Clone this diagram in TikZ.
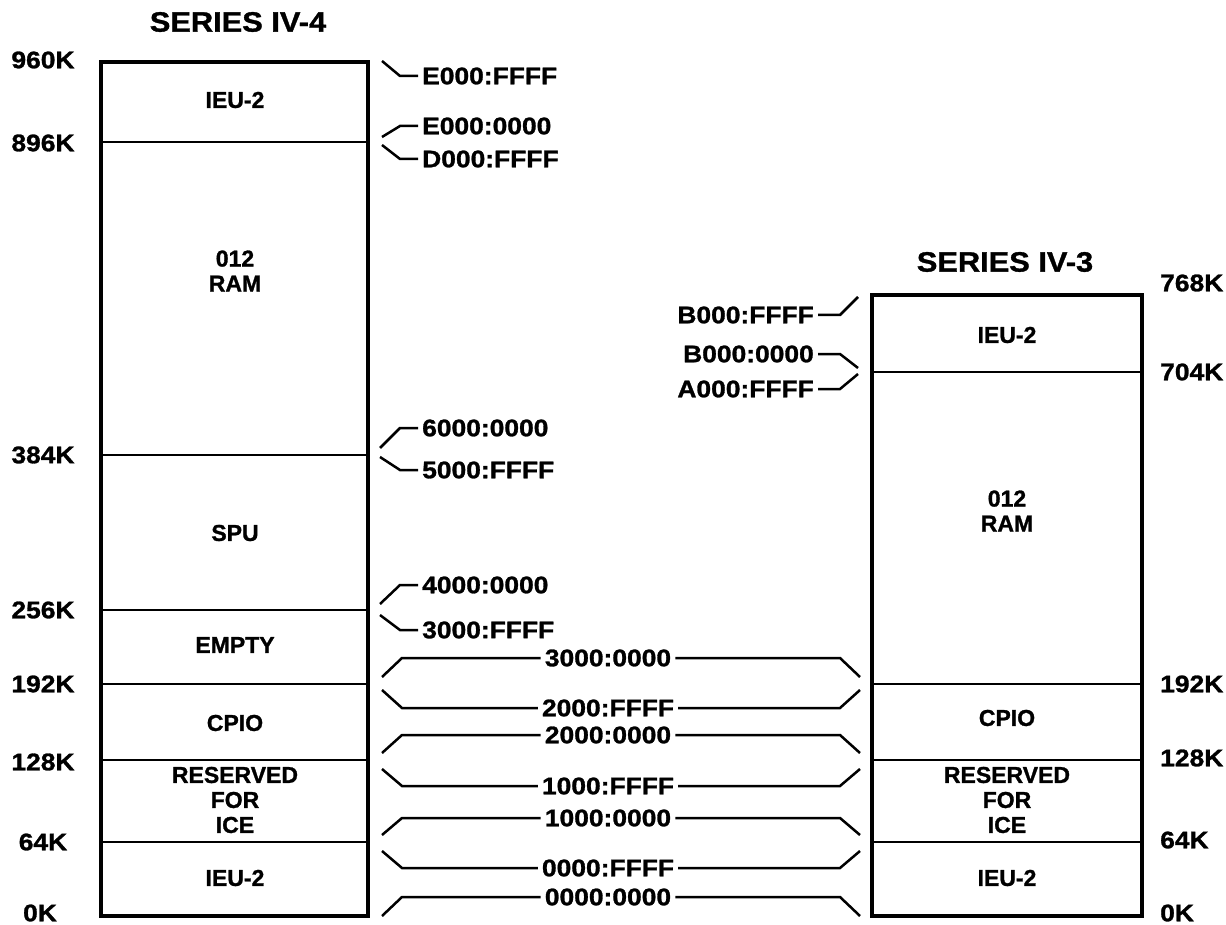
\documentclass[tikz,border=0pt]{standalone}
\usepackage{fontspec}
\setmainfont{Liberation Sans}[FakeStretch=1.1,BoldFeatures={FakeBold=1.2}]
\newfontfamily\secfont{Liberation Sans}[BoldFeatures={FakeBold=1.2}]
\usetikzlibrary{positioning}

\begin{document}
\begin{tikzpicture}[x=1pt,y=-1pt,every node/.style={inner sep=4pt,font=\bfseries\fontsize{24}{26}\selectfont},
mem/.style={line width=4pt},cut/.style={line width=2.5pt},con/.style={line width=2.5pt},
sec/.style={align=center,font=\secfont\bfseries\fontsize{23}{25}\selectfont},
ttl/.style={font=\bfseries\fontsize{28}{30}\selectfont}
]
\useasboundingbox (0,0) rectangle (1226,925);

% series IV-4
\node[ttl](t4) at (238,22) {SERIES IV-4};
\draw[mem] (101,62) rectangle (368,916);
\draw[cut] (101,142) -- (368,142) (101,455) -- (368,455) (101,610) -- (368,610)
  (101,684) -- (368,684) (101,760) -- (368,760) (101,842) -- (368,842);
\node[sec] at (235,100) {IEU-2};
\node[sec] at (235,271) {012\\RAM};
\node[sec] at (235,533) {SPU};
\node[sec] at (235,645) {EMPTY};
\node[sec] at (235,723) {CPIO};
\node[sec] at (235,800) {RESERVED\\FOR\\ICE};
\node[sec] at (235,878) {IEU-2};
\node(k960) at (43,60) {960K};
\node(k896) at (43,143) {896K};
\node(k384) at (43,455) {384K};
\node(k256) at (43,610) {256K};
\node(k192) at (43,684) {192K};
\node(k128) at (43,762) {128K};
\node(k64) at (43,842) {64K};
\node(k0) at (40,913) {0K};

% series IV-3
\node[ttl](t3) at (1005,262) {SERIES IV-3};
\draw[mem] (872,295) rectangle (1142,916);
\draw[cut] (872,372) -- (1142,372) (872,684) -- (1142,684) (872,760) -- (1142,760)
  (872,842) -- (1142,842);
\node[sec] at (1007,335) {IEU-2};
\node[sec] at (1007,511) {012\\RAM};
\node[sec] at (1007,718) {CPIO};
\node[sec] at (1007,800) {RESERVED\\FOR\\ICE};
\node[sec] at (1007,878) {IEU-2};
\node[anchor=west](r768) at (1156,283) {768K};
\node[anchor=west](r704) at (1156,372) {704K};
\node[anchor=west](r192) at (1156,684) {192K};
\node[anchor=west](r128) at (1156,758) {128K};
\node[anchor=west](r64) at (1156,840) {64K};
\node[anchor=west](r0) at (1156,913) {0K};

% addresses beside IV-4
\node[anchor=west](e0f) at (418,76) {E000:FFFF};
\node[anchor=west](e00) at (418,126) {E000:0000};
\node[anchor=west](d0f) at (418,159) {D000:FFFF};
\node[anchor=west](a60) at (418,428) {6000:0000};
\node[anchor=west](a5f) at (418,470) {5000:FFFF};
\node[anchor=west](a40) at (418,585) {4000:0000};
\node[anchor=west](a3f) at (418,630) {3000:FFFF};
\draw[con] (e0f.west) -- ++(-18,0) -- ++(-18,-15);
\draw[con] (e00.west) -- ++(-18,0) -- ++(-18,11);
\draw[con] (d0f.west) -- ++(-18,0) -- ++(-18,-14);
\draw[con] (a60.west) -- ++(-18,0) -- ++(-20,20);
\draw[con] (a5f.west) -- ++(-18,0) -- ++(-20,-13);
\draw[con] (a40.west) -- ++(-18,0) -- ++(-20,19);
\draw[con] (a3f.west) -- ++(-18,0) -- ++(-20,-15);

% addresses beside IV-3
\node[anchor=east](b0f) at (818,315) {B000:FFFF};
\node[anchor=east](b00) at (818,354) {B000:0000};
\node[anchor=east](a0f) at (818,389) {A000:FFFF};
\draw[con] (b0f.east) -- ++(22,0) -- ++(18,-18);
\draw[con] (b00.east) -- ++(22,0) -- ++(18,14);
\draw[con] (a0f.east) -- ++(22,0) -- ++(18,-15);

% shared addresses
\node(m30) at (608,658) {3000:0000};
\node(m2f) at (608,708) {2000:FFFF};
\node(m20) at (608,735) {2000:0000};
\node(m1f) at (608,786) {1000:FFFF};
\node(m10) at (608,818) {1000:0000};
\node(m0f) at (608,868) {0000:FFFF};
\node(m00) at (608,897) {0000:0000};
\draw[con] (m30.west) -- (m30.west -| 402,0) -- ++(-20,19) (m30.east) -- (m30.east -| 840,0) -- ++(20,19);
\draw[con] (m2f.west) -- (m2f.west -| 402,0) -- ++(-20,-18) (m2f.east) -- (m2f.east -| 840,0) -- ++(20,-18);
\draw[con] (m20.west) -- (m20.west -| 402,0) -- ++(-20,18) (m20.east) -- (m20.east -| 840,0) -- ++(20,18);
\draw[con] (m1f.west) -- (m1f.west -| 402,0) -- ++(-20,-17) (m1f.east) -- (m1f.east -| 840,0) -- ++(20,-17);
\draw[con] (m10.west) -- (m10.west -| 402,0) -- ++(-20,17) (m10.east) -- (m10.east -| 840,0) -- ++(20,17);
\draw[con] (m0f.west) -- (m0f.west -| 402,0) -- ++(-20,-17) (m0f.east) -- (m0f.east -| 840,0) -- ++(20,-17);
\draw[con] (m00.west) -- (m00.west -| 402,0) -- ++(-20,19) (m00.east) -- (m00.east -| 840,0) -- ++(20,19);
\end{tikzpicture}
\end{document}
